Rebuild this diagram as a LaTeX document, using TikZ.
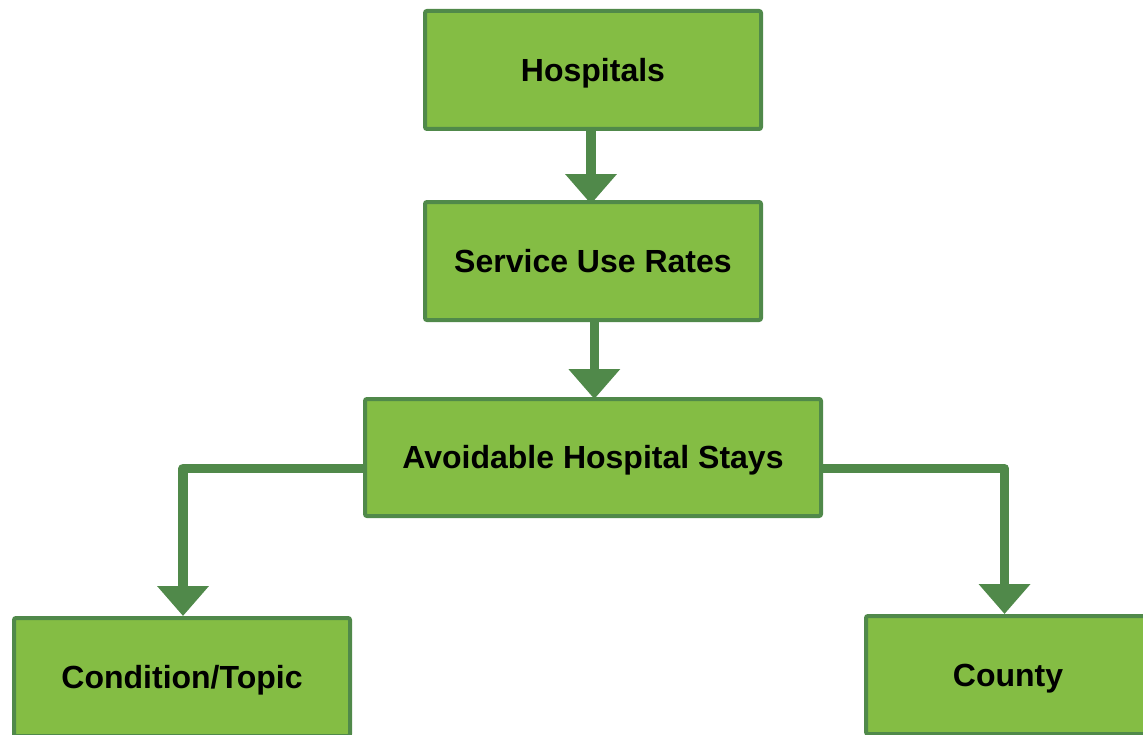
\documentclass[tikz,border=0pt]{standalone}
\usepackage{fontspec}
\setmainfont{Liberation Sans}
\usetikzlibrary{arrows.meta}
\definecolor{boxfill}{RGB}{132,189,68}
\definecolor{boxline}{RGB}{80,137,74}
\tikzset{
  box/.style={draw=boxline, line width=3pt, fill=boxfill, rounded corners=1.5pt,
    minimum width=252pt, minimum height=88.5pt, inner sep=0pt,
    text height=17.2pt, text depth=0pt,
    font=\fontsize{24pt}{28pt}\selectfont\bfseries, text=black},
  arr/.style={draw=boxline, line width=7.2pt, line join=round,
    -{Triangle[width=37.5pt,length=22.5pt]}, boxline}
}
\begin{document}
\begin{tikzpicture}[x=0.75pt,y=-0.75pt]
\useasboundingbox (0,0) rectangle (1143,735);
\clip (0,0) rectangle (1143,735);
\node[box] (hosp) at (593,70) {Hospitals};
\node[box] (serv) at (593,261) {Service Use Rates};
\node[box, minimum width=342pt, minimum height=87.75pt] (avoid) at (593,457.5) {Avoidable Hospital Stays};
\node[box] (cond) at (182,677) {Condition/Topic};
\node[box, minimum width=213pt] (county) at (1008,675) {County};
\draw[arr] ([xshift=-1.5pt]hosp.south) -- ([xshift=-1.5pt,yshift=-3pt]serv.north);
\draw[arr] ([xshift=1pt]serv.south) -- ([xshift=1pt,yshift=-1.5pt]avoid.north);
\draw[arr] ([yshift=-8.25pt]avoid.west) -| ([xshift=0.75pt]cond.north);
\draw[arr] ([yshift=-8.25pt]avoid.east) -| ([xshift=-2.6pt]county.north);
\end{tikzpicture}
\end{document}
